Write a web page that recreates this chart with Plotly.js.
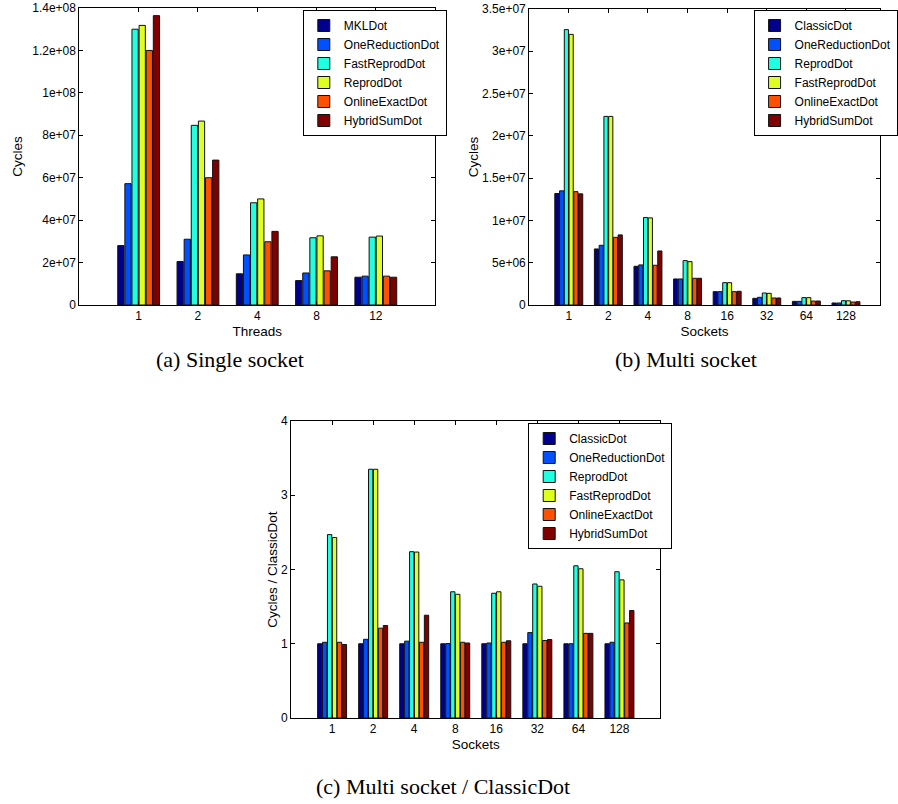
<!DOCTYPE html>
<html>
<head>
<meta charset="utf-8">
<script src="https://cdn.plot.ly/plotly-3.0.1.min.js"></script>
<style>
  html, body { margin: 0; padding: 0; background: #fff; }
  #chart { width: 898px; height: 804px; }
</style>
</head>
<body>
<div id="chart"></div>
<script>
// ---------- data ----------
const threadCats = ['1', '2', '4', '8', '12'];
const socketCats = ['1', '2', '4', '8', '16', '32', '64', '128'];

// (a) Single socket – cycles
const singleNames = ['MKLDot', 'OneReductionDot', 'FastReprodDot', 'ReprodDot', 'OnlineExactDot', 'HybridSumDot'];
const singleMKL       = [2.80e7, 2.05e7, 1.47e7, 1.15e7, 1.31e7];
const singleOneRed    = [5.72e7, 3.10e7, 2.36e7, 1.51e7, 1.36e7];
const singleFastRep   = [1.30e8, 8.47e7, 4.82e7, 3.17e7, 3.20e7];
const singleReprod    = [1.318e8, 8.67e7, 5.00e7, 3.26e7, 3.25e7];
const singleOnline    = [1.20e8, 6.00e7, 2.98e7, 1.61e7, 1.36e7];
const singleHybrid    = [1.364e8, 6.83e7, 3.47e7, 2.27e7, 1.31e7];

// (b) Multi socket – cycles
const multiNames = ['ClassicDot', 'OneReductionDot', 'ReprodDot', 'FastReprodDot', 'OnlineExactDot', 'HybridSumDot'];
const multiClassic  = [1.318e7, 6.63e6, 4.58e6, 3.08e6, 1.58e6, 7.9e5, 4.3e5, 2.4e5];
const multiOneRed   = [1.350e7, 7.06e6, 4.74e6, 3.08e6, 1.58e6, 9.1e5, 4.3e5, 2.4e5];
const multiReprod   = [3.256e7, 2.23e7, 1.034e7, 5.25e6, 2.64e6, 1.42e6, 8.7e5, 5.1e5];
const multiFastRep  = [3.200e7, 2.23e7, 1.030e7, 5.13e6, 2.64e6, 1.38e6, 8.7e5, 5.0e5];
const multiOnline   = [1.340e7, 8.00e6, 4.70e6, 3.16e6, 1.58e6, 8.3e5, 4.7e5, 3.5e5];
const multiHybrid   = [1.314e7, 8.29e6, 6.39e6, 3.16e6, 1.62e6, 8.3e5, 4.7e5, 3.9e5];

// (c) Multi socket / ClassicDot – ratios
const ratioClassic = [1.00, 1.00, 1.00, 1.00, 1.00, 1.00, 1.00, 1.00];
const ratioOneRed  = [1.02, 1.06, 1.035, 1.003, 1.01, 1.15, 1.00, 1.02];
const ratioReprod  = [2.47, 3.35, 2.24, 1.70, 1.68, 1.805, 2.05, 1.97];
const ratioFastRep = [2.43, 3.35, 2.235, 1.666, 1.70, 1.774, 2.01, 1.86];
const ratioOnline  = [1.02, 1.21, 1.02, 1.02, 1.02, 1.044, 1.14, 1.28];
const ratioHybrid  = [0.99, 1.245, 1.384, 1.01, 1.04, 1.057, 1.14, 1.447];

// tick labels
const tickValsA = [0, 2e7, 4e7, 6e7, 8e7, 1e8, 1.2e8, 1.4e8];
const tickTextA = ['0', '2e+07', '4e+07', '6e+07', '8e+07', '1e+08', '1.2e+08', '1.4e+08'];
const tickValsB = [0, 5e6, 1e7, 1.5e7, 2e7, 2.5e7, 3e7, 3.5e7];
const tickTextB = ['0', '5e+06', '1e+07', '1.5e+07', '2e+07', '2.5e+07', '3e+07', '3.5e+07'];
const tickValsC = [0, 1, 2, 3, 4];
const tickTextC = ['0', '1', '2', '3', '4'];

const captions = ['(a) Single socket', '(b) Multi socket', '(c) Multi socket / ClassicDot'];

// ---------- styling ----------
const colors = ['#00008c', '#0050ff', '#20ffdf', '#dfff20', '#ff5000', '#800000'];
const sans = 'Liberation Sans, Arial, sans-serif';

function makeTraces(cats, series, names, xa, ya, legendId) {
  return series.map((vals, i) => ({
    type: 'bar',
    x: cats,
    y: vals,
    name: names[i],
    xaxis: xa,
    yaxis: ya,
    legend: legendId,
    marker: { color: colors[i], line: { color: '#111', width: 1 } },
    hoverinfo: 'x+y+name'
  }));
}

const data = [].concat(
  makeTraces(threadCats, [singleMKL, singleOneRed, singleFastRep, singleReprod, singleOnline, singleHybrid], singleNames, 'x', 'y', 'legend'),
  makeTraces(socketCats, [multiClassic, multiOneRed, multiReprod, multiFastRep, multiOnline, multiHybrid], multiNames, 'x2', 'y2', 'legend2'),
  makeTraces(socketCats, [ratioClassic, ratioOneRed, ratioReprod, ratioFastRep, ratioOnline, ratioHybrid], multiNames, 'x3', 'y3', 'legend3')
);

function xAxis(domain, range, title, anchor) {
  return {
    domain: domain, range: range, type: 'category', anchor: anchor,
    showline: true, linecolor: '#000', linewidth: 1, mirror: 'allticks',
    ticks: 'inside', ticklen: 4, tickcolor: '#000', tickwidth: 1,
    showgrid: false, zeroline: false,
    tickfont: { family: sans, size: 12, color: '#000' },
    title: { text: title, font: { family: sans, size: 13.5, color: '#000' }, standoff: 4 },
    automargin: false, fixedrange: true
  };
}
function yAxis(domain, range, tv, tt, title, anchor, standoff) {
  return {
    domain: domain, range: range, anchor: anchor,
    tickvals: tv, ticktext: tt,
    showline: true, linecolor: '#000', linewidth: 1, mirror: 'allticks',
    ticks: 'inside', ticklen: 4, tickcolor: '#000', tickwidth: 1,
    showgrid: false, zeroline: false,
    tickfont: { family: sans, size: 12, color: '#000' },
    title: { text: title, font: { family: sans, size: 13.5, color: '#000' }, standoff: standoff },
    automargin: false, fixedrange: true
  };
}
function legendStyle(x, y) {
  return {
    x: x, y: y, xanchor: 'left', yanchor: 'top', xref: 'paper', yref: 'paper',
    bgcolor: '#fff', bordercolor: '#000', borderwidth: 1,
    font: { family: sans, size: 12, color: '#000' },
    itemwidth: 30,
    tracegroupgap: 0, itemclick: false, itemdoubleclick: false
  };
}

const layout = {
  width: 898, height: 804,
  margin: { l: 0, r: 0, t: 0, b: 0 },
  paper_bgcolor: '#fff', plot_bgcolor: '#fff',
  barmode: 'group', bargap: 0.28, bargroupgap: 0.12,
  showlegend: true,
  xaxis:  xAxis([81 / 898, 444 / 898], [-1, 5], 'Threads', 'y'),
  yaxis:  yAxis([1 - 305 / 804, 1 - 8 / 804], [0, 1.4e8], tickValsA, tickTextA, 'Cycles', 'x', 6),
  xaxis2: xAxis([540 / 898, 1], [-1, 7.86], 'Sockets', 'y2'),
  yaxis2: yAxis([1 - 305 / 804, 1 - 9 / 804], [0, 3.5e7], tickValsB, tickTextB, 'Cycles', 'x2', 0),
  xaxis3: xAxis([297 / 898, 674 / 898], [-1, 8], 'Sockets', 'y3'),
  yaxis3: yAxis([1 - 718 / 804, 1 - 421 / 804], [0, 4], tickValsC, tickTextC, 'Cycles / ClassicDot', 'x3', 0),
  legend:  legendStyle(309 / 898, 1 - 10 / 804),
  legend2: legendStyle(769 / 898, 1 - 10 / 804),
  legend3: legendStyle(539 / 898, 1 - 423 / 804),
  annotations: [
    { text: captions[0], x: 235 / 898, y: 1 - 360 / 804 },
    { text: captions[1], x: 700 / 898, y: 1 - 360 / 804 },
    { text: captions[2], x: 452 / 898, y: 1 - 786 / 804 }
  ].map(a => Object.assign(a, {
    xref: 'paper', yref: 'paper', xanchor: 'center', yanchor: 'middle', showarrow: false,
    font: { family: 'Liberation Serif, DejaVu Serif, serif', size: 22, color: '#000' }
  }))
};

Plotly.newPlot('chart', data, layout, { displayModeBar: false, staticPlot: false });
</script>
</body>
</html>
